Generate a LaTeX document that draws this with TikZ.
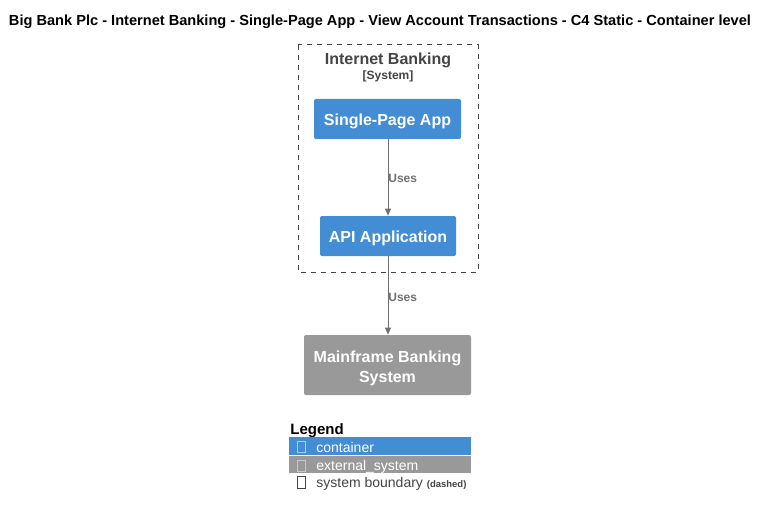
\documentclass[tikz,border=0pt]{standalone}
\usepackage{fontspec}
\setmainfont{Liberation Sans}
\usetikzlibrary{arrows.meta}

\definecolor{containerblue}{HTML}{438DD5}
\definecolor{extgray}{HTML}{999999}
\definecolor{boundtext}{HTML}{444444}
\definecolor{relgray}{HTML}{707070}

\tikzset{every picture/.style={line width=0.75pt}}
\tikzset{
  contbox/.style={fill=containerblue, rounded corners=2pt, inner sep=0pt},
  extbox/.style={fill=extgray, rounded corners=2pt, inner sep=0pt},
  boxlabel/.style={text=white, align=center, inner sep=0pt, font=\fontsize{16}{20}\selectfont\bfseries},
  rel/.style={draw=relgray, line width=1pt, -{Triangle[length=7pt,width=6pt]}},
  rellabel/.style={text=relgray, font=\fontsize{12}{14}\selectfont\bfseries, anchor=west, inner sep=0pt},
  legtext/.style={anchor=base west, inner sep=0pt, font=\fontsize{14}{16}\selectfont},
  tofu/.style={draw, line width=0.6pt}
}

\begin{document}
\begin{tikzpicture}[x=1pt,y=1pt,yscale=-1]
  \useasboundingbox (0,0) rectangle (768,516);

  % Text Node
  \node (title) at (380,21.5) {\fontsize{14.6}{16}\selectfont\bfseries Big Bank Plc - Internet Banking - Single-Page App - View Account Transactions - C4 Static - Container level};

  %Shape: Rectangle [boundary]
  \draw [boundtext, line width=1pt, dash pattern=on 5pt off 5pt] (298,45) rectangle (478,272);
  % Text Node
  \node (bname) at (388,60) [text=boundtext] {\fontsize{16}{18}\selectfont\bfseries Internet Banking};
  % Text Node
  \node (btype) at (388,76.5) [text=boundtext] {\fontsize{12}{14}\selectfont\bfseries [System]};

  %Shape: Rectangle [spa]
  \node (spa) at (387.5,119) [contbox, minimum width=147pt, minimum height=40pt] {};
  \node (spalabel) at ([yshift=2pt]spa.center) [boxlabel] {Single-Page App};
  %Shape: Rectangle [api]
  \node (api) at (388,236) [contbox, minimum width=136pt, minimum height=40pt] {};
  \node (apilabel) at ([yshift=2pt]api.center) [boxlabel] {API Application};
  %Shape: Rectangle [mainframe]
  \node (mainframe) at (387.5,365) [extbox, minimum width=167pt, minimum height=60pt] {};
  \node (mainframelabel) at ([yshift=3pt]mainframe.center) [boxlabel] {Mainframe Banking\\System};

  %Straight Lines
  \draw [rel] (spa.south -| 388,0) -- (api.north -| 388,0);
  \node (uses1) at (388,178) [rellabel] {Uses};
  %Straight Lines
  \draw [rel] (api.south -| 388,0) -- (mainframe.north -| 388,0);
  \node (uses2) at (388,297) [rellabel] {Uses};

  % Legend
  \node (legend) at (290,430.5) [anchor=west, inner sep=0pt] {\fontsize{15}{17}\selectfont\bfseries Legend};
  \fill [containerblue] (289,437) rectangle (471,455);
  \fill [extgray] (289,456) rectangle (471,473);
  \draw [tofu, draw=white!55!containerblue] (297,441) rectangle (305,452);
  \draw [tofu, draw=white!45!extgray] (297,460) rectangle (305,471);
  \draw [tofu, draw=boundtext] (297,476) rectangle (305,488);
  \node (lcont) at (316,452) [legtext, text=white] {container};
  \node (lext) at (316,470) [legtext, text=white] {external\_system};
  \node (lbound) at (316,487) [legtext, text=boundtext] {system boundary {\fontsize{9.5}{11}\selectfont\bfseries (dashed)}};
\end{tikzpicture}
\end{document}
